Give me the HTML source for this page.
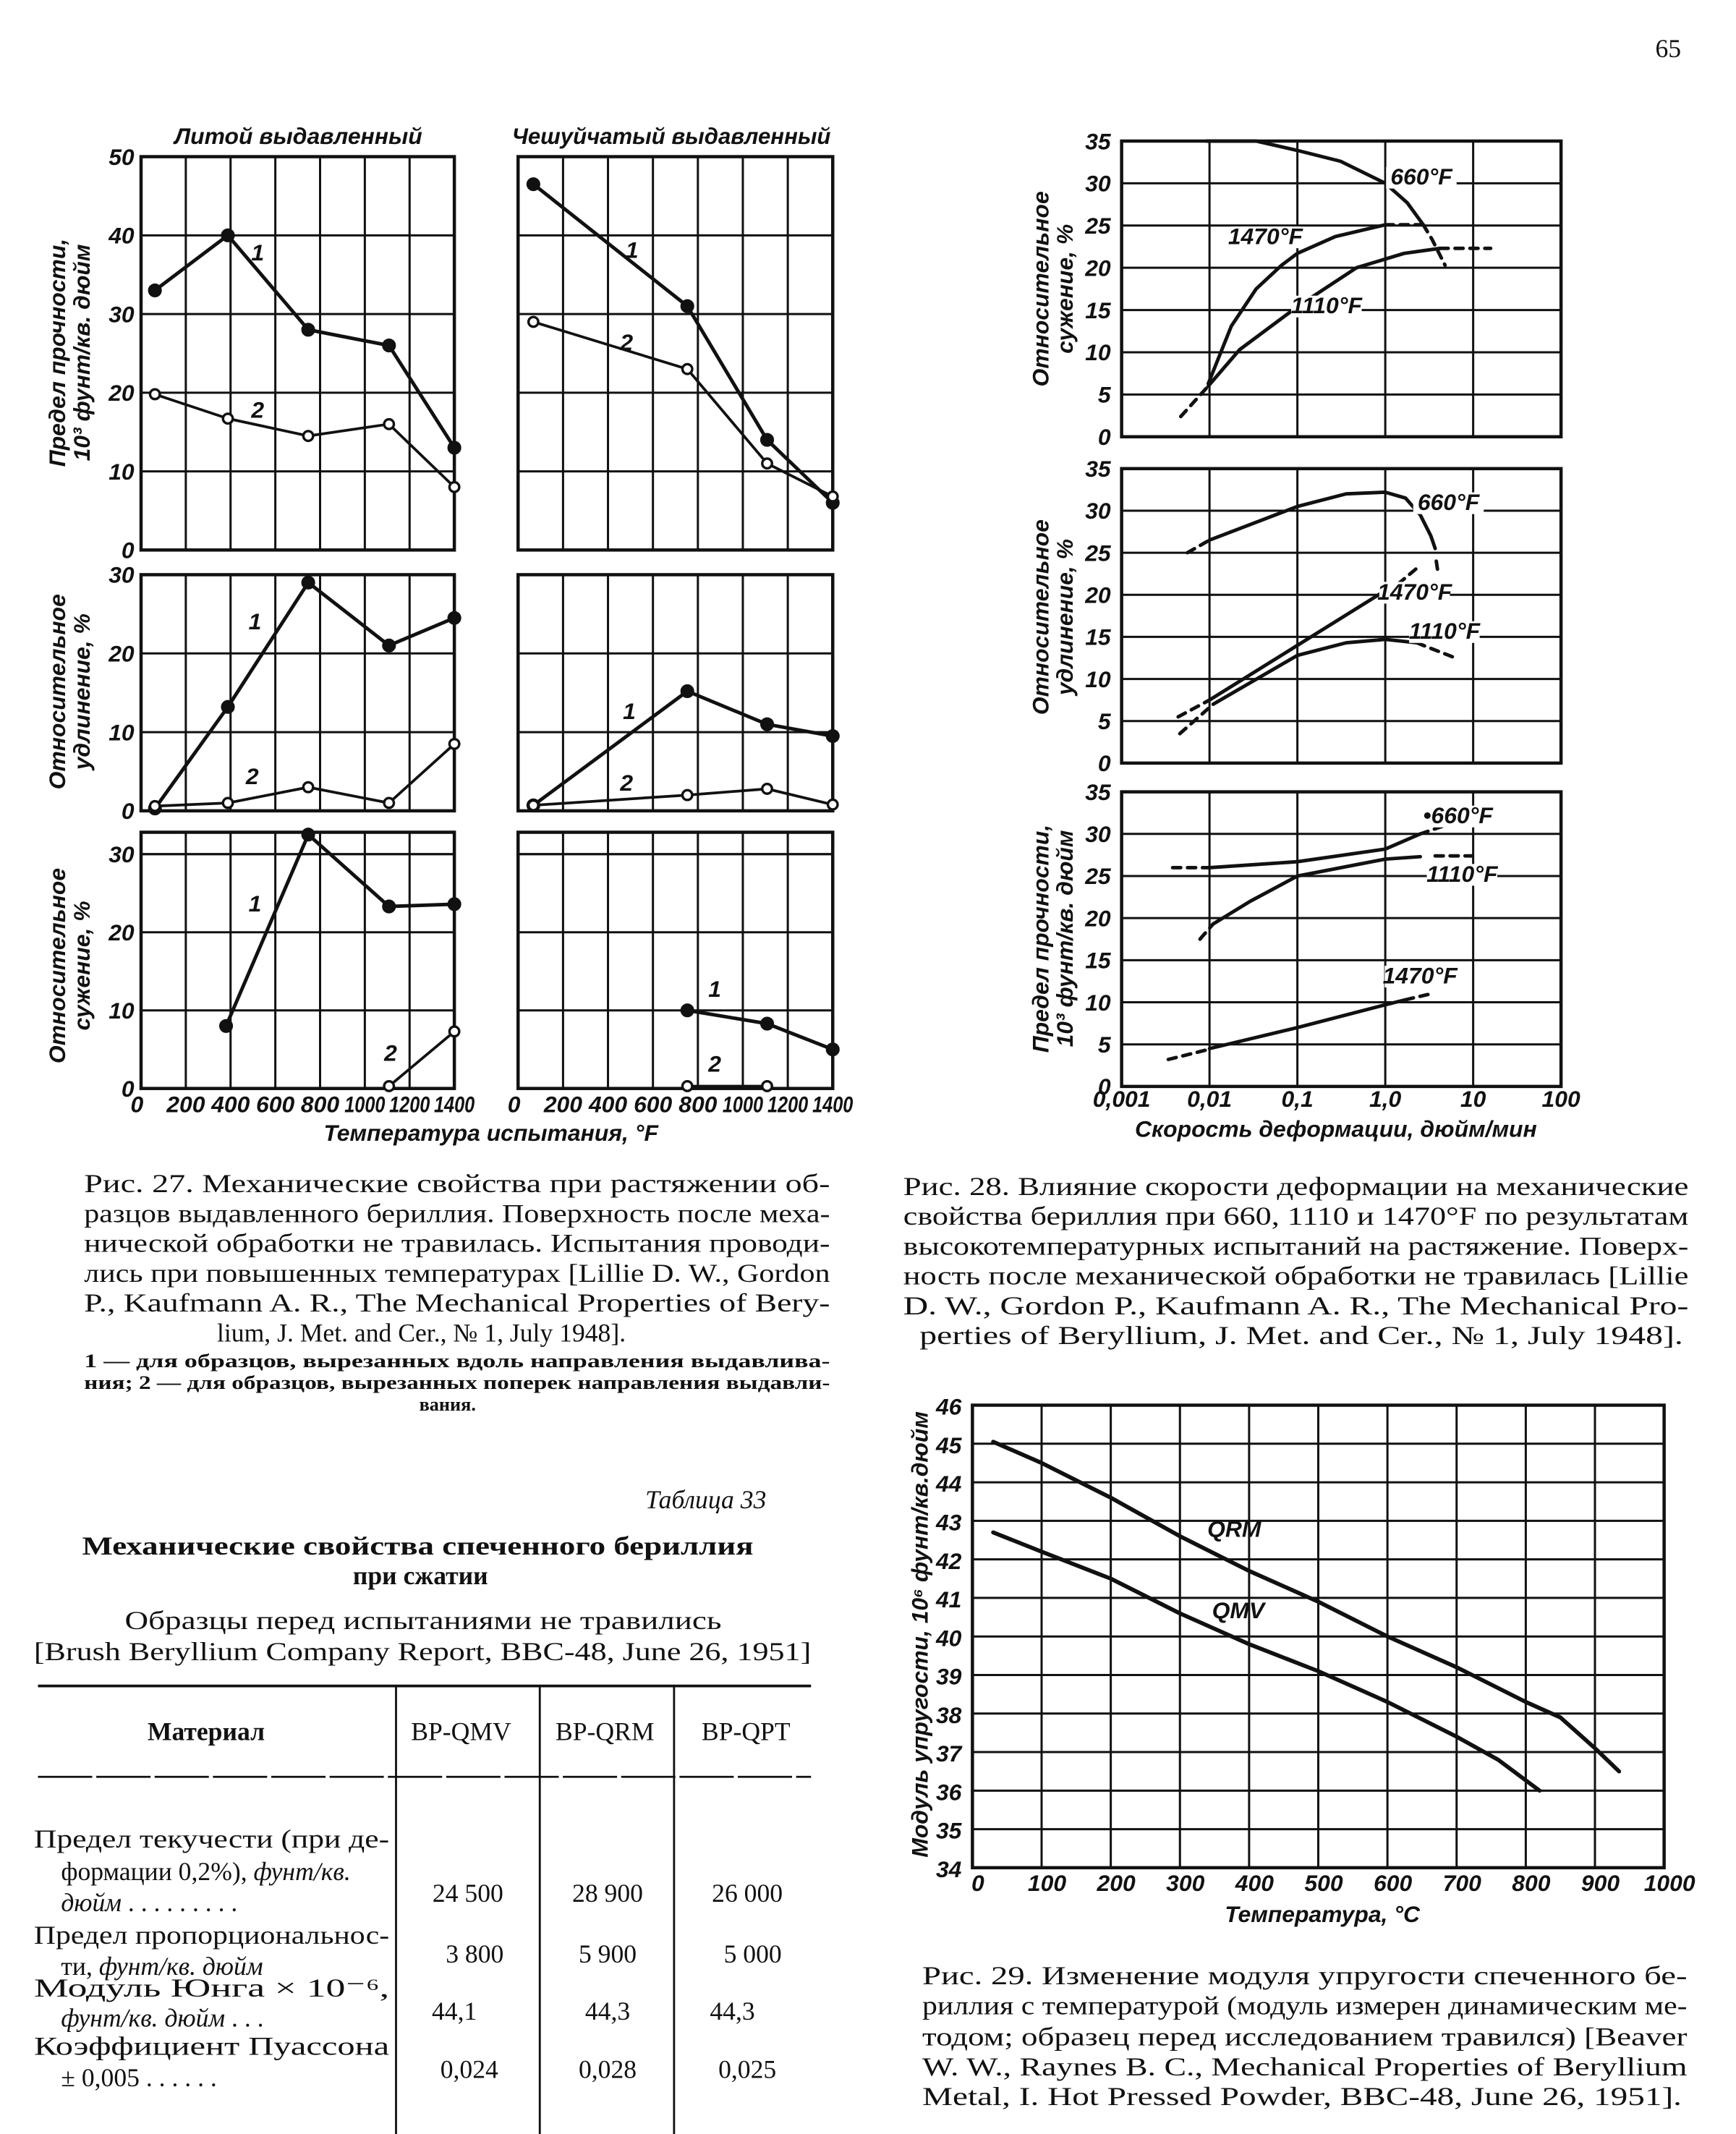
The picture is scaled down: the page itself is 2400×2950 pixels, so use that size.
<!DOCTYPE html>
<html><head><meta charset="utf-8">
<style>
html,body{margin:0;padding:0;background:#fff;}
svg{display:block;}
.tk{font-family:"Liberation Sans",sans-serif;font-style:italic;font-weight:bold;font-size:17px;fill:#111;}
.ax{font-family:"Liberation Sans",sans-serif;font-style:italic;font-weight:bold;font-size:17px;fill:#111;}
.cap{font-family:"Liberation Serif",serif;font-size:19px;fill:#111;}
.sm{font-family:"Liberation Serif",serif;font-size:14px;fill:#111;}
.tb{font-family:"Liberation Serif",serif;font-size:19px;fill:#111;}
</style></head>
<body>
<svg id="page" xmlns="http://www.w3.org/2000/svg" width="2400" height="2950" viewBox="0 0 1280 1573.33">
<rect x="0" y="0" width="1280" height="1574" fill="#fff"/>
<text x="1230" y="42" class="cap" font-size="22" text-anchor="middle">65</text>

<g>
<text class="ax" x="220" y="106" text-anchor="middle" font-size="18">Литой выдавленный</text>
<text class="ax" x="495" y="106" text-anchor="middle" font-size="18" textLength="235" lengthAdjust="spacingAndGlyphs">Чешуйчатый выдавленный</text>
<text class="ax" transform="translate(48,260) rotate(-90)" text-anchor="middle" font-size="16">Предел прочности,</text>
<text class="ax" transform="translate(66,260) rotate(-90)" text-anchor="middle" font-size="16">10³ фунт/кв. дюйм</text>
<text class="ax" transform="translate(48,510) rotate(-90)" text-anchor="middle" font-size="16">Относительное</text>
<text class="ax" transform="translate(66,510) rotate(-90)" text-anchor="middle" font-size="16">удлинение, %</text>
<text class="ax" transform="translate(48,712) rotate(-90)" text-anchor="middle" font-size="16">Относительное</text>
<text class="ax" transform="translate(66,712) rotate(-90)" text-anchor="middle" font-size="16">сужение, %</text>
<text class="ax" x="362" y="841" text-anchor="middle" font-size="18">Температура испытания, °F</text>
</g>

<g>
<text class="ax" transform="translate(773,213) rotate(-90)" text-anchor="middle" font-size="16">Относительное</text>
<text class="ax" transform="translate(791,213) rotate(-90)" text-anchor="middle" font-size="16">сужение, %</text>
<text class="ax" transform="translate(773,455) rotate(-90)" text-anchor="middle" font-size="16">Относительное</text>
<text class="ax" transform="translate(791,455) rotate(-90)" text-anchor="middle" font-size="16">удлинение, %</text>
<text class="ax" transform="translate(773,692) rotate(-90)" text-anchor="middle" font-size="16">Предел прочности,</text>
<text class="ax" transform="translate(791,692) rotate(-90)" text-anchor="middle" font-size="16">10³ фунт/кв. дюйм</text>
<text class="ax" x="985" y="838" text-anchor="middle" font-size="18">Скорость деформации, дюйм/мин</text>
</g>

<g>
<text class="ax" transform="translate(684,1205) rotate(-90)" text-anchor="middle" font-size="16">Модуль упругости, 10⁶ фунт/кв.дюйм</text>
<text class="ax" x="975" y="1417" text-anchor="middle" font-size="18">Температура, °C</text>
</g>

<g>
<text class="cap" x="62" y="879" textLength="550" lengthAdjust="spacingAndGlyphs">Рис. 27. Механические свойства при растяжении об-</text>
<text class="cap" x="62" y="901" textLength="550" lengthAdjust="spacingAndGlyphs">разцов выдавленного бериллия. Поверхность после меха-</text>
<text class="cap" x="62" y="923" textLength="550" lengthAdjust="spacingAndGlyphs">нической обработки не травилась. Испытания проводи-</text>
<text class="cap" x="62" y="945" textLength="550" lengthAdjust="spacingAndGlyphs">лись при повышенных температурах [Lillie D. W., Gordon</text>
<text class="cap" x="62" y="967" textLength="550" lengthAdjust="spacingAndGlyphs">P., Kaufmann A. R., The Mechanical Properties of Bery-</text>
<text class="cap" x="160" y="989">lium, J. Met. and Cer., № 1, July 1948].</text>
<text class="sm" x="62" y="1008" textLength="550" lengthAdjust="spacingAndGlyphs" font-weight="bold">1 — для образцов, вырезанных вдоль направления выдавлива-</text>
<text class="sm" x="62" y="1024" textLength="550" lengthAdjust="spacingAndGlyphs" font-weight="bold">ния; 2 — для образцов, вырезанных поперек направления выдавли-</text>
<text class="sm" x="330" y="1040" text-anchor="middle" font-weight="bold">вания.</text>
</g>

<g>
<text class="cap" x="666" y="881" textLength="579" lengthAdjust="spacingAndGlyphs">Рис. 28. Влияние скорости деформации на механические</text>
<text class="cap" x="666" y="903" textLength="579" lengthAdjust="spacingAndGlyphs">свойства бериллия при 660, 1110 и 1470°F по результатам</text>
<text class="cap" x="666" y="925" textLength="579" lengthAdjust="spacingAndGlyphs">высокотемпературных испытаний на растяжение. Поверх-</text>
<text class="cap" x="666" y="947" textLength="579" lengthAdjust="spacingAndGlyphs">ность после механической обработки не травилась [Lillie</text>
<text class="cap" x="666" y="969" textLength="579" lengthAdjust="spacingAndGlyphs">D. W., Gordon P., Kaufmann A. R., The Mechanical Pro-</text>
<text class="cap" x="678" y="991" textLength="563" lengthAdjust="spacingAndGlyphs">perties of Beryllium, J. Met. and Cer., № 1, July 1948].</text>
</g>

<g>
<text class="cap" x="680" y="1463" textLength="564" lengthAdjust="spacingAndGlyphs">Рис. 29. Изменение модуля упругости спеченного бе-</text>
<text class="cap" x="680" y="1485" textLength="564" lengthAdjust="spacingAndGlyphs">риллия с температурой (модуль измерен динамическим ме-</text>
<text class="cap" x="680" y="1508" textLength="564" lengthAdjust="spacingAndGlyphs">тодом; образец перед исследованием травился) [Beaver</text>
<text class="cap" x="680" y="1530" textLength="564" lengthAdjust="spacingAndGlyphs">W. W., Raynes B. C., Mechanical Properties of Beryllium</text>
<text class="cap" x="680" y="1552" textLength="560" lengthAdjust="spacingAndGlyphs">Metal, I. Hot Pressed Powder, BBC-48, June 26, 1951].</text>
</g>

<g>
<text class="cap" x="565" y="1112" text-anchor="end" font-style="italic" font-size="20">Таблица 33</text>
<text class="cap" x="308" y="1146" text-anchor="middle" font-weight="bold" font-size="19" textLength="495" lengthAdjust="spacingAndGlyphs">Механические свойства спеченного бериллия</text>
<text class="cap" x="310" y="1168" text-anchor="middle" font-weight="bold" font-size="19">при сжатии</text>
<text class="cap" x="312" y="1201" text-anchor="middle" textLength="440" lengthAdjust="spacingAndGlyphs">Образцы перед испытаниями не травились</text>
<text class="cap" x="25" y="1224" textLength="573" lengthAdjust="spacingAndGlyphs">[Brush Beryllium Company Report, BBC-48, June 26, 1951]</text>
<line x1="28" y1="1243" x2="598" y2="1243" stroke="#111" stroke-width="2"/>
<line x1="28" y1="1310" x2="598" y2="1310" stroke="#111" stroke-width="1.5" stroke-dasharray="40 3"/>
<line x1="292" y1="1243" x2="292" y2="1580" stroke="#111" stroke-width="1.5"/>
<line x1="398" y1="1243" x2="398" y2="1580" stroke="#111" stroke-width="1.5"/>
<line x1="497" y1="1243" x2="497" y2="1580" stroke="#111" stroke-width="1.5"/>
<text class="tb" x="152" y="1283" text-anchor="middle" font-size="14" font-weight="bold">Материал</text>
<text class="tb" x="340" y="1283" text-anchor="middle" font-size="15">BP-QMV</text>
<text class="tb" x="446" y="1283" text-anchor="middle" font-size="15">BP-QRM</text>
<text class="tb" x="550" y="1283" text-anchor="middle" font-size="15">BP-QPT</text>
<text class="tb" x="25" y="1362" textLength="262" lengthAdjust="spacingAndGlyphs">Предел текучести (при де-</text>
<text class="tb" x="45" y="1386">формации 0,2%), <tspan font-style="italic">фунт/кв.</tspan></text>
<text class="tb" x="45" y="1409"><tspan font-style="italic">дюйм</tspan>  . . . . . . . . .</text>
<text class="tb" x="345" y="1402" text-anchor="middle">24 500</text>
<text class="tb" x="448" y="1402" text-anchor="middle">28 900</text>
<text class="tb" x="551" y="1402" text-anchor="middle">26 000</text>
<text class="tb" x="25" y="1433" textLength="262" lengthAdjust="spacingAndGlyphs">Предел пропорциональнос-</text>
<text class="tb" x="45" y="1456">ти, <tspan font-style="italic">фунт/кв. дюйм</tspan></text>
<text class="tb" x="350" y="1447" text-anchor="middle">3 800</text>
<text class="tb" x="448" y="1447" text-anchor="middle">5 900</text>
<text class="tb" x="555" y="1447" text-anchor="middle">5 000</text>
<text class="tb" x="25" y="1472" textLength="262" lengthAdjust="spacingAndGlyphs">Модуль    Юнга × 10⁻⁶,</text>
<text class="tb" x="45" y="1494"><tspan font-style="italic">фунт/кв. дюйм</tspan>  . . .</text>
<text class="tb" x="335" y="1489" text-anchor="middle">44,1</text>
<text class="tb" x="448" y="1489" text-anchor="middle">44,3</text>
<text class="tb" x="540" y="1489" text-anchor="middle">44,3</text>
<text class="tb" x="25" y="1515" textLength="262" lengthAdjust="spacingAndGlyphs">Коэффициент       Пуассона</text>
<text class="tb" x="45" y="1538">± 0,005  . . . . . .</text>
<text class="tb" x="346" y="1532" text-anchor="middle">0,024</text>
<text class="tb" x="448" y="1532" text-anchor="middle">0,028</text>
<text class="tb" x="551" y="1532" text-anchor="middle">0,025</text>
</g>

<g id="charts"></g>
</svg>

<script>
// ---------- Fig 27 data ----------
const f27TempTicks = ["0","200","400","600","800","1000","1200","1400"];
const castStrT1 = [62, 388, 747, 1108, 1400];
const castStr1 = [33, 40, 28, 26, 13];
const castStrT2 = [62, 388, 747, 1108, 1400];
const castStr2 = [19.8, 16.7, 14.5, 16, 8];
const flakeStrT1 = [68, 753, 1108, 1400];
const flakeStr1 = [46.5, 31, 14, 6];
const flakeStrT2 = [68, 753, 1108, 1400];
const flakeStr2 = [29, 23, 11, 6.8];
const castElT1 = [62, 388, 747, 1108, 1400];
const castEl1 = [0.3, 13.2, 29, 21, 24.5];
const castElT2 = [62, 388, 747, 1108, 1400];
const castEl2 = [0.6, 1, 3, 1, 8.5];
const flakeElT1 = [68, 753, 1108, 1400];
const flakeEl1 = [0.7, 15.2, 11, 9.5];
const flakeElT2 = [68, 753, 1108, 1400];
const flakeEl2 = [0.7, 2, 2.8, 0.8];
const castRaT1 = [380, 747, 1108, 1400];
const castRa1 = [8, 32.5, 23.3, 23.6];
const castRaT2 = [1108, 1400];
const castRa2 = [0.3, 7.3];
const flakeRaT1 = [753, 1108, 1400];
const flakeRa1 = [10, 8.3, 5];
const flakeRaT2 = [753, 1108];
const flakeRa2 = [0.3, 0.3];
const strTicks = [0,10,20,30,40,50];
const elTicks = [0,10,20,30];
const raTicks = [0,10,20,30];

// ---------- Fig 28 data (rate in in/min) ----------
const rateTicks = ["0,001","0,01","0,1","1,0","10","100"];
const pctTicks = [0,5,10,15,20,25,30,35];
const ra660Rate = [0.0092, 0.034, 0.1, 0.31, 1.0, 1.78, 2.7];
const ra660 = [35, 35, 33.9, 32.6, 30, 27.7, 25.1];
const ra660dRate = [2.7, 3.4, 4.8];
const ra660d = [25.1, 23.4, 20.3];
const ra1470Rate = [0.0097, 0.0177, 0.034, 0.066, 0.1, 0.27, 1.0];
const ra1470 = [6.3, 13.1, 17.5, 20.3, 21.7, 23.7, 25.1];
const ra1470dRate = [1.0, 2.7];
const ra1470d = [25.1, 25.1];
const ra1110Rate = [0.0097, 0.022, 0.1, 0.47, 1.64, 4.2];
const ra1110 = [6, 10.3, 15.4, 20, 21.7, 22.3];
const ra1110dRate = [4.2, 15.8];
const ra1110d = [22.3, 22.3];
const raLowdRate = [0.0047, 0.0097];
const raLowd = [2.4, 6];
const el660dRate = [0.0056, 0.01];
const el660d = [25, 26.5];
const el660Rate = [0.01, 0.1, 0.36, 1.0, 1.7, 2.5, 3.3, 3.7];
const el660 = [26.5, 30.5, 32, 32.2, 31.5, 29.5, 27, 25.5];
const el660d2Rate = [3.8, 4.0];
const el660d2 = [24, 22.5];
const el1470dRate = [0.0044, 0.01];
const el1470d = [5.5, 7.5];
const el1470Rate = [0.01, 0.1, 1.0, 1.4];
const el1470 = [7.5, 14, 20.5, 21.3];
const el1470d2Rate = [1.4, 2.5];
const el1470d2 = [21.3, 23.5];
const el1110dRate = [0.0046, 0.011];
const el1110d = [3.5, 7];
const el1110Rate = [0.011, 0.1, 0.36, 1.0, 2.3];
const el1110 = [7, 12.8, 14.3, 14.7, 14.3];
const el1110d2Rate = [2.3, 3.0, 6.3];
const el1110d2 = [14.3, 13.8, 12.5];
const st660dRate = [0.0038, 0.01];
const st660d = [26, 26];
const st660Rate = [0.01, 0.1, 1.0, 2.5];
const st660 = [26, 26.7, 28.2, 30];
const st660d2Rate = [2.5, 6.6];
const st660d2 = [30, 31.5];
const st1110dRate = [0.0078, 0.011];
const st1110d = [17.5, 19.3];
const st1110Rate = [0.011, 0.029, 0.1, 1.0, 2.5];
const st1110 = [19.3, 22, 25, 27, 27.3];
const st1110d2Rate = [3.7, 9.7];
const st1110d2 = [27.4, 27.4];
const st1470dRate = [0.0034, 0.009];
const st1470d = [3.2, 4.3];
const st1470Rate = [0.01, 0.1, 1.0, 1.7];
const st1470 = [4.5, 7, 9.7, 10.3];
const st1470d2Rate = [1.7, 3.3];
const st1470d2 = [10.3, 11];

// ---------- Fig 29 data ----------
const f29TempTicks = [0,100,200,300,400,500,600,700,800,900,1000];
const f29ModTicks = [34,35,36,37,38,39,40,41,42,43,44,45,46];
const qrmT = [30, 100, 200, 300, 400, 500, 600, 700, 800, 850, 900, 935];
const qrmE = [45.05, 44.5, 43.6, 42.6, 41.7, 40.9, 40, 39.2, 38.3, 37.9, 37.1, 36.5];
const qmvT = [30, 100, 200, 300, 400, 500, 600, 700, 760, 820];
const qmvE = [42.7, 42.2, 41.5, 40.6, 39.8, 39.1, 38.3, 37.4, 36.8, 36];

const NS = "http://www.w3.org/2000/svg";
const root = document.getElementById('charts');

function mk(tag, attrs, parent) {
  const el = document.createElementNS(NS, tag);
  for (const k in attrs) el.setAttribute(k, attrs[k]);
  (parent || root).appendChild(el);
  return el;
}
function linScale(d0, d1, r0, r1) { return v => r0 + (v - d0) / (d1 - d0) * (r1 - r0); }
function logScale(d0, d1, r0, r1) { return v => r0 + (Math.log10(v) - Math.log10(d0)) / (Math.log10(d1) - Math.log10(d0)) * (r1 - r0); }

function frame(name, x0, y0, x1, y1, vx, hy) {
  const g = mk('g', {});
  
  
  vx.forEach(x => {
    const l = mk('line', {x1: x, y1: y0, x2: x, y2: y1, stroke: '#111', 'stroke-width': 1.6}, g);
    
    
  });
  hy.forEach(y => {
    const l = mk('line', {x1: x0, y1: y, x2: x1, y2: y, stroke: '#111', 'stroke-width': 1.6}, g);
    
    
  });
  const r = mk('rect', {x: x0, y: y0, width: x1 - x0, height: y1 - y0, fill: 'none', stroke: '#111', 'stroke-width': 2.4}, g);
  
  
  return g;
}
function series(name, xs, ys, sx, sy, opts) {
  const pts = xs.map((x, i) => sx(x).toFixed(1) + ',' + sy(ys[i]).toFixed(1)).join(' ');
  const p = mk('polyline', {points: pts, fill: 'none', stroke: '#111', 'stroke-width': opts.w || 2.6, 'stroke-linejoin': 'round', 'stroke-linecap': 'round', 'stroke-dasharray': opts.dash || 'none'});
  
  
  if (opts.marker) {
    xs.forEach((x, i) => {
      const c = mk('circle', {cx: sx(x), cy: sy(ys[i]), r: opts.marker === 'filled' ? 4.2 : 3.6, fill: opts.marker === 'filled' ? '#111' : '#fff', stroke: '#111', 'stroke-width': 1.8});
      
      
    });
  }
}
function label(name, txt, x, y, size, anchor) {
  const t = mk('text', {x: x, y: y, class: 'tk', 'font-size': size || 17, 'text-anchor': anchor || 'middle'});
  t.textContent = txt;
  
  
  return t;
}

// ---------- Fig 27 ----------
const panels = [
  {name: 'cast', x0: 104, x1: 335},
  {name: 'flake', x0: 382, x1: 614}
];
const rows = [
  {key: 'str', y0: 115.5, y1: 405.5, top: 50, ticks: strTicks},
  {key: 'el', y0: 423.7, y1: 597.8, top: 30, ticks: elTicks},
  {key: 'ra', y0: 613.6, y1: 802.5, top: 32.8, ticks: raTicks}
];
const f27Data = {
  caststr: [[castStrT1, castStr1], [castStrT2, castStr2]],
  flakestr: [[flakeStrT1, flakeStr1], [flakeStrT2, flakeStr2]],
  castel: [[castElT1, castEl1], [castElT2, castEl2]],
  flakeel: [[flakeElT1, flakeEl1], [flakeElT2, flakeEl2]],
  castra: [[castRaT1, castRa1], [castRaT2, castRa2]],
  flakera: [[flakeRaT1, flakeRa1], [flakeRaT2, flakeRa2]]
};
const f27LabelPos = {
  caststr: [[190, 192], [190, 308]], flakestr: [[466, 190], [462, 258]],
  castel: [[188, 464], [186, 578]], flakeel: [[464, 530], [462, 583]],
  castra: [[188, 672], [288, 782]], flakera: [[527, 735], [527, 790]]
};
panels.forEach(pn => {
  const sx = linScale(0, 1400, pn.x0, pn.x1);
  rows.forEach(rw => {
    const sy = linScale(0, rw.top, rw.y1, rw.y0);
    const vx = [200, 400, 600, 800, 1000, 1200].map(sx);
    const hy = rw.ticks.filter(t => t > 0 && t < rw.top).map(sy);
    if (rw.key === 'ra') hy.push(sy(30));
    frame('fig27-' + pn.name + '-' + rw.key + '-panel', pn.x0, rw.y0, pn.x1, rw.y1, vx, hy);
    if (pn.name === 'cast') {
      rw.ticks.forEach(t => label('fig27-' + rw.key + '-y-tick', String(t), 99, sy(t) + 6, 17, 'end'));
    }
    const key = pn.name + rw.key;
    const d = f27Data[key];
    series('fig27-' + key + '-line-1', d[0][0], d[0][1], sx, sy, {marker: 'filled'});
    series('fig27-' + key + '-line-2', d[1][0], d[1][1], sx, sy, {marker: 'open', w: 2});
    label('fig27-' + key + '-label-1', '1', f27LabelPos[key][0][0], f27LabelPos[key][0][1], 18);
    label('fig27-' + key + '-label-2', '2', f27LabelPos[key][1][0], f27LabelPos[key][1][1], 18);
  });
  f27TempTicks.forEach(t => {
    const lt = label('fig27-x-tick', t, sx(+t) + (t === '0' ? -3 : 0), 820, 14);
    if (t.length === 4) {
      lt.setAttribute('textLength', '30');
      lt.setAttribute('lengthAdjust', 'spacingAndGlyphs');
    }
  });
});

// ---------- Fig 28 ----------
const f28x = logScale(0.001, 100, 827, 1151);
const f28Panels = [
  {key: 'ra', y0: 104, y1: 322},
  {key: 'el', y0: 345.5, y1: 562.6},
  {key: 'st', y0: 583.8, y1: 801}
];
const f28Series = {
  ra: [['660', ra660Rate, ra660, 0], ['660-dash', ra660dRate, ra660d, 1], ['1470', ra1470Rate, ra1470, 0], ['1470-dash', ra1470dRate, ra1470d, 1], ['1110', ra1110Rate, ra1110, 0], ['1110-dash', ra1110dRate, ra1110d, 1], ['low-dash', raLowdRate, raLowd, 1]],
  el: [['660-dash', el660dRate, el660d, 1], ['660', el660Rate, el660, 0], ['660-dash-end', el660d2Rate, el660d2, 1], ['1470-dash', el1470dRate, el1470d, 1], ['1470', el1470Rate, el1470, 0], ['1470-dash-end', el1470d2Rate, el1470d2, 1], ['1110-dash', el1110dRate, el1110d, 1], ['1110', el1110Rate, el1110, 0], ['1110-dash-end', el1110d2Rate, el1110d2, 1]],
  st: [['660-dash', st660dRate, st660d, 1], ['660', st660Rate, st660, 0], ['660-dash-end', st660d2Rate, st660d2, 1], ['1110-dash', st1110dRate, st1110d, 1], ['1110', st1110Rate, st1110, 0], ['1110-dash-end', st1110d2Rate, st1110d2, 1], ['1470-dash', st1470dRate, st1470d, 1], ['1470', st1470Rate, st1470, 0], ['1470-dash-end', st1470d2Rate, st1470d2, 1]]
};
const f28Labels = {
  ra: [['660°F', 1048, 136], ['1470°F', 933, 180], ['1110°F', 978, 231]],
  el: [['660°F', 1068, 376], ['1470°F', 1043, 442], ['1110°F', 1065, 471]],
  st: [['•660°F', 1075, 607], ['1110°F', 1078, 650], ['1470°F', 1047, 725]]
};
f28Panels.forEach(p => {
  const sy = linScale(0, 35, p.y1, p.y0);
  const vx = [0.01, 0.1, 1, 10].map(f28x);
  const hy = [5, 10, 15, 20, 25, 30].map(sy);
  frame('fig28-' + p.key + '-panel', 827, p.y0, 1151, p.y1, vx, hy);
  pctTicks.forEach(t => label('fig28-' + p.key + '-y-tick', String(t), 819, sy(t) + 6, 17, 'end'));
  f28Series[p.key].forEach(s => {
    series('fig28-' + p.key + '-' + s[0], s[1], s[2], f28x, sy, {dash: s[3] ? '6 5' : 'none', w: 2.6});
  });
  f28Labels[p.key].forEach(l => {
    const bg = mk('rect', {x: l[1] - 26, y: l[2] - 13, width: 52, height: 16, fill: '#fff'});
    
    
    label('fig28-' + p.key + '-curve-label', l[0], l[1], l[2], 14);
  });
});
rateTicks.forEach((t, i) => label('fig28-x-tick', t, f28x(Math.pow(10, i - 3)), 816, 15));

// ---------- Fig 29 ----------
const f29x = linScale(0, 1000, 717, 1227);
const f29y = linScale(34, 46, 1377, 1036);
frame('fig29-panel', 717, 1036, 1227, 1377, f29TempTicks.slice(1, -1).map(f29x), f29ModTicks.slice(1, -1).map(f29y));
f29ModTicks.forEach(t => label('fig29-y-tick', String(t), 709, f29y(t) + 7, 18, 'end'));
f29TempTicks.forEach(t => label('fig29-x-tick', String(t), f29x(t) + 4, 1394, 17));
series('fig29-qrm-line', qrmT, qrmE, f29x, f29y, {w: 3});
series('fig29-qmv-line', qmvT, qmvE, f29x, f29y, {w: 3});
label('fig29-qrm-label', 'QRM', 910, 1133, 16);
label('fig29-qmv-label', 'QMV', 913, 1193, 16);
</script>
</body></html>
